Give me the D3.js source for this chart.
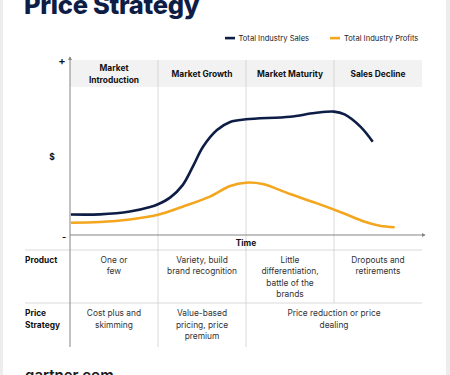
<!DOCTYPE html>
<html lang="en">
<head>
  <meta charset="UTF-8">
  <title>Price Strategy</title>
  <script src="https://d3js.org/d3.v7.min.js"></script>
  <style>
    html, body { margin: 0; padding: 0; background: #ededed; }
    svg { font-family: Inter, "Noto Sans", sans-serif; display: block; }
    .hdr { font-size: 8.4px; font-weight: 700; fill: #111; }
    .cell { font-size: 8.4px; fill: #333; }
    .rowlabel { font-size: 8.4px; font-weight: 700; fill: #111; }
    .legend { font-size: 7.6px; fill: #222; }
  </style>
</head>
<body>
  <svg></svg>
  <script>
    const stages = [['Market', 'Introduction'], ['Market Growth'], ['Market Maturity'], ['Sales Decline']];
    const productText = [['One or', 'few'], ['Variety, build', 'brand recognition'],
      ['Little', 'differentiation,', 'battle of the', 'brands'], ['Dropouts and', 'retirements']];
    const priceText = [['Cost plus and', 'skimming'], ['Value-based', 'pricing, price', 'premium'],
      ['Price reduction or price', 'dealing']];
    const priceSpan = [1, 1, 2];
    // time in stage units (0..4), value in arbitrary $ units (0..100)
    const salesT = [0.01, 0.34, 0.68, 0.91, 1.0, 1.14, 1.28, 1.40, 1.51, 1.67, 1.82, 2.0, 2.5, 2.78, 3.0, 3.12, 3.30, 3.44];
    const salesV = [11.7, 11.8, 13.4, 16, 17.6, 21.5, 28.5, 39.5, 50.3, 60, 64.6, 66.1, 67.6, 69.7, 70.5, 68.9, 61.9, 53.3];
    const profitT = [0.01, 0.34, 0.68, 1.0, 1.28, 1.59, 1.82, 2.0, 2.19, 2.5, 2.8, 3.1, 3.35, 3.52, 3.69];
    const profitV = [7.0, 7.4, 8.9, 11.6, 16.2, 21.9, 28, 29.9, 29.1, 23.4, 18.2, 12.6, 7.6, 5.3, 4.4];
    const seriesNames = ['Total Industry Sales', 'Total Industry Profits'];
    const colors = ['#0e1d46', '#f3a61e'];

    const W = 450, H = 375;
    const svg = d3.select('svg').attr('width', W).attr('height', H);
    svg.append('rect').attr('x', 3).attr('y', 0).attr('width', 443).attr('height', H).attr('fill', '#fff');

    const x = d3.scaleLinear().domain([0, 4]).range([70, 422]);
    const y = d3.scaleLinear().domain([0, 100]).range([235, 60]);
    const tableTop = 250, tableMid = 303, tableBottom = 347;

    // title
    svg.append('text').attr('x', 24).attr('y', 14)
      .attr('font-size', 25.5).attr('font-weight', 800).attr('fill', '#0e1d46')
      .attr('letter-spacing', '-0.3').text('Price Strategy');

    // legend
    const lg = svg.append('g');
    [[225, 238.5], [330, 344]].forEach(([sx, tx], i) => {
      lg.append('rect').attr('x', sx).attr('y', 36.8).attr('width', 10).attr('height', 2.6).attr('fill', colors[i]);
      lg.append('text').attr('class', 'legend').attr('x', tx).attr('y', 40.8).text(seriesNames[i]);
    });

    // header band
    svg.append('rect').attr('x', x(0)).attr('y', y(100)).attr('width', x(4) - x(0))
      .attr('height', 27).attr('fill', '#f2f2f2');
    stages.forEach((lines, i) => {
      const cx = (x(i) + x(i + 1)) / 2;
      const y0 = 77 - (lines.length - 1) * 5.7;
      lines.forEach((l, j) => {
        svg.append('text').attr('class', 'hdr').attr('text-anchor', 'middle')
          .attr('x', cx).attr('y', y0 + j * 11.5).text(l);
      });
    });

    // column separators
    [1, 2, 3].forEach(i => {
      svg.append('line').attr('x1', x(i)).attr('x2', x(i))
        .attr('y1', y(100)).attr('y2', i === 3 ? tableMid : tableBottom)
        .attr('stroke', '#cfcfcf').attr('stroke-width', 0.8);
    });
    // row separators
    [tableTop, tableMid].forEach(ry => {
      svg.append('line').attr('x1', 25).attr('x2', x(4)).attr('y1', ry).attr('y2', ry)
        .attr('stroke', '#d0d0d0').attr('stroke-width', 0.8);
    });

    // axes
    const axisColor = '#858585';
    svg.append('line').attr('x1', x(0)).attr('x2', x(0)).attr('y1', 57).attr('y2', tableBottom)
      .attr('stroke', axisColor).attr('stroke-width', 1);
    svg.append('line').attr('x1', x(0)).attr('x2', 425).attr('y1', y(0)).attr('y2', y(0))
      .attr('stroke', axisColor).attr('stroke-width', 1);
    svg.append('path').attr('d', `M${x(0) - 2},60 L${x(0)},56.5 L${x(0) + 2},60 Z`).attr('fill', axisColor);
    svg.append('path').attr('d', `M422,${y(0) - 2} L425.5,${y(0)} L422,${y(0) + 2} Z`).attr('fill', axisColor);

    svg.append('text').attr('x', 62).attr('y', 65).attr('text-anchor', 'middle')
      .attr('font-size', 11).attr('font-weight', 600).attr('fill', '#111').text('+');
    svg.append('text').attr('x', 64).attr('y', 239.5).attr('text-anchor', 'middle')
      .attr('font-size', 9).attr('font-weight', 700).attr('fill', '#111').text('-');
    svg.append('text').attr('x', 52).attr('y', 160).attr('text-anchor', 'middle')
      .attr('font-size', 8.5).attr('font-weight', 700).attr('fill', '#111').text('$');
    svg.append('text').attr('x', x(2)).attr('y', 246).attr('text-anchor', 'middle')
      .attr('font-size', 8.4).attr('font-weight', 700).attr('fill', '#111').text('Time');

    // curves
    const line = d3.line().x(d => x(d[0])).y(d => y(d[1])).curve(d3.curveCatmullRom.alpha(0.5));
    const sales = salesT.map((t, i) => [t, salesV[i]]);
    const profits = profitT.map((t, i) => [t, profitV[i]]);
    [sales, profits].forEach((data, i) => {
      svg.append('path').datum(data).attr('d', line).attr('fill', 'none')
        .attr('stroke', colors[i]).attr('stroke-width', 2.6).attr('stroke-linecap', 'butt');
    });

    // table rows
    svg.append('text').attr('class', 'rowlabel').attr('x', 25).attr('y', 263).text('Product');
    svg.append('text').attr('class', 'rowlabel').attr('x', 25).attr('y', 316).text('Price');
    svg.append('text').attr('class', 'rowlabel').attr('x', 25).attr('y', 327.5).text('Strategy');

    productText.forEach((lines, i) => {
      const cx = (x(i) + x(i + 1)) / 2;
      lines.forEach((l, j) => {
        svg.append('text').attr('class', 'cell').attr('text-anchor', 'middle')
          .attr('x', cx).attr('y', 263 + j * 11.4).text(l);
      });
    });
    let col = 0;
    priceText.forEach((lines, i) => {
      const cx = (x(col) + x(col + priceSpan[i])) / 2;
      col += priceSpan[i];
      lines.forEach((l, j) => {
        svg.append('text').attr('class', 'cell').attr('text-anchor', 'middle')
          .attr('x', cx).attr('y', 316 + j * 11.6).text(l);
      });
    });

    svg.append('text').attr('x', 25).attr('y', 381).attr('font-size', 15).attr('font-weight', 600)
      .attr('fill', '#1a1a1a').text('gartner.com');
  </script>
</body>
</html>
